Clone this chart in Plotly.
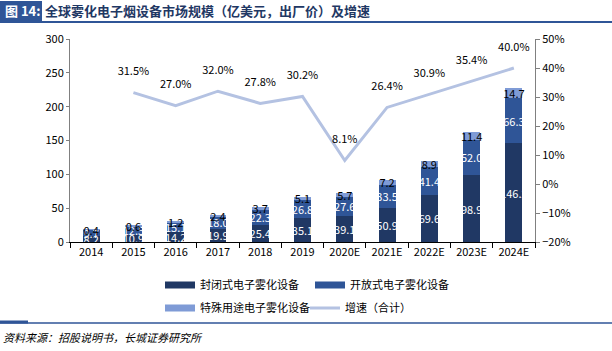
import plotly.graph_objects as go

years = ["2014", "2015", "2016", "2017", "2018", "2019", "2020E", "2021E", "2022E", "2023E", "2024E"]
closed_vals = [8.2, 10.9, 14.2, 19.9, 25.4, 35.1, 39.1, 50.9, 69.6, 98.9, 146.2]
open_vals = [9.7, 12.5, 15.1, 18.0, 22.3, 26.8, 27.6, 33.5, 41.4, 52.0, 66.3]
special_vals = [0.4, 0.6, 1.2, 2.4, 3.7, 5.1, 5.7, 7.2, 8.9, 11.4, 14.7]
growth_years = years[1:]
growth_vals = [31.5, 27.0, 32.0, 27.8, 30.2, 8.1, 26.4, 30.9, 35.4, 40.0]

series_names = ["封闭式电子雾化设备", "开放式电子雾化设备", "特殊用途电子雾化设备", "增速（合计）"]
c_closed = "#203864"
c_open = "#2F5597"
c_special = "#7F9BD6"
c_line = "#B4C2E2"

W, H = 612, 351
ML, MR, MT, MB = 70, 77, 39, 109
PW, PH = W - ML - MR, H - MT - MB


def px(x):
    return (x - ML) / PW


def py(y):
    return (H - MB - y) / PH


FONT = "Noto Sans CJK SC, Microsoft YaHei, sans-serif"

fig = go.Figure()
for vals, name, col, tcol in [
    (closed_vals, series_names[0], c_closed, "white"),
    (open_vals, series_names[1], c_open, "white"),
    (special_vals, series_names[2], c_special, "black"),
]:
    fig.add_trace(go.Bar(
        x=years, y=vals, name=name, marker=dict(color=col, line=dict(width=0)),
        width=0.4, text=[f"{v:.1f}" for v in vals], textposition="inside", textangle=0,
        insidetextanchor="middle", textfont=dict(color=tcol, size=11, family=FONT),
        showlegend=False, cliponaxis=False,
    ))

fig.add_trace(go.Scatter(
    x=growth_years, y=growth_vals, yaxis="y2", mode="lines+markers+text",
    line=dict(color=c_line, width=3), name=series_names[3],
    marker=dict(size=22, opacity=0, color=c_line),
    text=[f"{v:.1f}%" for v in growth_vals], textposition="top center",
    textfont=dict(color="black", size=11, family=FONT), showlegend=False,
    cliponaxis=False,
))

# legend entries
for name, col, lw, leg in [
    (series_names[0], c_closed, 7, "legend"),
    (series_names[1], c_open, 7, "legend"),
    (series_names[2], c_special, 7, "legend2"),
    (series_names[3], c_line, 3, "legend2"),
]:
    fig.add_trace(go.Scatter(x=[None], y=[None], mode="lines", name=name,
                             line=dict(color=col, width=lw), legend=leg, showlegend=True))

shapes = [
    dict(type="rect", xref="paper", yref="paper", x0=px(0), x1=px(42), y0=py(21), y1=py(1),
         fillcolor="#2F5597", line=dict(width=0), layer="above"),
    dict(type="line", xref="paper", yref="paper", x0=px(0), x1=px(612), y0=py(22), y1=py(22),
         line=dict(color="#2F5597", width=2)),
    dict(type="line", xref="paper", yref="paper", x0=px(0), x1=px(612), y0=py(323), y1=py(323),
         line=dict(color="#2F5597", width=1.5)),
    dict(type="line", xref="paper", yref="paper", x0=px(0), x1=px(28), y0=py(322), y1=py(322),
         line=dict(color="#2F5597", width=3)),
]

annotations = [
    dict(text="<b>图 14:</b>", xref="paper", yref="paper", x=px(3), y=py(11), xanchor="left",
         yanchor="middle", showarrow=False, font=dict(color="white", size=13, family=FONT)),
    dict(text="<b>全球雾化电子烟设备市场规模（亿美元，出厂价）及增速</b>", xref="paper", yref="paper",
         x=px(43), y=py(11), xanchor="left", yanchor="middle", showarrow=False,
         font=dict(color="#1F3864", size=13, family=FONT)),
    dict(text="<i>资料来源：招股说明书，长城证券研究所</i>", xref="paper", yref="paper",
         x=px(1), y=py(337), xanchor="left", yanchor="middle", showarrow=False,
         font=dict(color="black", size=11, family=FONT)),
]

fig.update_layout(
    width=W, height=H, margin=dict(l=ML, r=MR, t=MT, b=MB),
    paper_bgcolor="white", plot_bgcolor="white",
    barmode="stack", bargap=0.6,
    font=dict(family=FONT, size=11, color="black"),
    uniformtext=dict(minsize=11, mode="show"),
    xaxis=dict(type="category", range=[-0.5, len(years) - 0.5], autorange=False,
               showline=True, linecolor="black", linewidth=1,
               ticks="outside", ticklen=5, tickcolor="black", tickson="boundaries",
               showgrid=False, tickfont=dict(size=11, color="black")),
    yaxis=dict(range=[0, 300], dtick=50, showline=True, linecolor="#808080", linewidth=1,
               ticks="outside", ticklen=3, tickcolor="#808080", showgrid=False,
               zeroline=False, tickfont=dict(size=11, color="black")),
    yaxis2=dict(range=[-20, 50], dtick=10, ticksuffix="%", overlaying="y", side="right",
                showline=True, linecolor="#808080", linewidth=1, ticks="outside", ticklen=4,
                tickcolor="#808080", showgrid=False, zeroline=False,
                tickfont=dict(size=11, color="black")),
    legend=dict(orientation="h", x=px(160), y=py(285), xanchor="left", yanchor="middle",
                entrywidth=105, itemwidth=30, traceorder="normal",
                font=dict(size=11, family=FONT), bgcolor="rgba(0,0,0,0)"),
    legend2=dict(orientation="h", x=px(160), y=py(308), xanchor="left", yanchor="middle",
                 entrywidth=100, itemwidth=30, traceorder="normal",
                 font=dict(size=11, family=FONT), bgcolor="rgba(0,0,0,0)"),
    shapes=shapes, annotations=annotations,
)

fig.write_html("out.html")
